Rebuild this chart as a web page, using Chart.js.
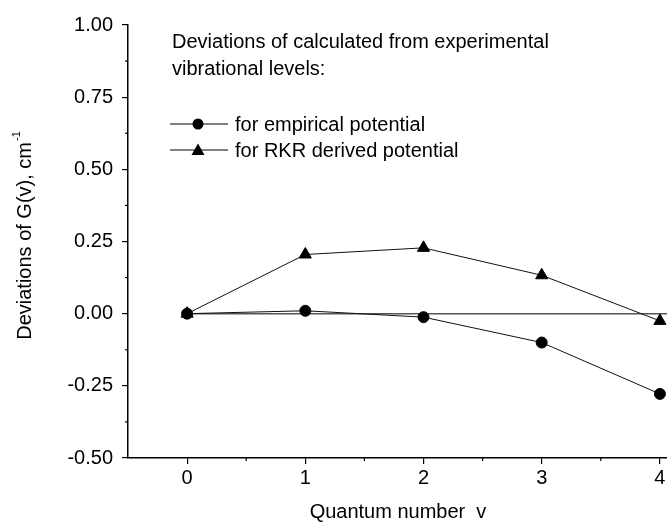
<!DOCTYPE html>
<html>
<head>
<meta charset="utf-8">
<script src="https://cdn.jsdelivr.net/npm/chart.js@4"></script>
<style>
  html, body { margin: 0; padding: 0; background: #fff; }
  #wrap { width: 667px; height: 527px; }
</style>
</head>
<body>
<div id="wrap"><canvas id="myChart" width="667" height="527"></canvas></div>
<script>
// quantum number v
const quantum = [0, 1, 2, 3, 4];
// deviations of G(v), cm-1
const empirical = [0, 0.01, -0.012, -0.10, -0.278];
const rkr = [0, 0.205, 0.228, 0.133, -0.025];
// zero reference line
const zeroX = [0, 4.06];
const zeroY = [0, 0];

const xTicks = [0, 1, 2, 3, 4];
const yTicks = [-0.5, -0.25, 0, 0.25, 0.5, 0.75, 1.0];

const FONT = '"Liberation Sans", Arial, sans-serif';

function pairs(xs, ys){
    return xs.map((x, i) => ({x: x, y: ys[i]}));
}

// x labels, minor ticks, titles and the in-plot legend
const extras = {
    id: 'extras',
    afterDraw(chart){
        const ctx = chart.ctx;
        const xs = chart.scales.x, ys = chart.scales.y;
        const area = chart.chartArea;
        ctx.save();
        ctx.strokeStyle = '#000';
        ctx.lineWidth = 1.2;
        // minor ticks
        for (let v = -0.5; v <= 4; v += 1){
            const px = xs.getPixelForValue(v);
            if (px < area.left + 1) continue;
            ctx.beginPath();
            ctx.moveTo(px, area.bottom);
            ctx.lineTo(px, area.bottom + 3);
            ctx.stroke();
        }
        for (let v = -0.375; v < 1; v += 0.25){
            const py = ys.getPixelForValue(v);
            ctx.beginPath();
            ctx.moveTo(area.left, py);
            ctx.lineTo(area.left - 3, py);
            ctx.stroke();
        }

        ctx.fillStyle = '#000';
        ctx.font = '20px ' + FONT;
        ctx.textBaseline = 'middle';

        // x tick labels
        ctx.textAlign = 'center';
        xTicks.forEach(v => {
            ctx.fillText(String(v), xs.getPixelForValue(v), area.bottom + 20);
        });

        ctx.textAlign = 'left';
        // header text
        ctx.fillText('Deviations of calculated from experimental', 172, 42);
        ctx.fillText('vibrational levels:', 172, 69);

        // legend
        const rows = [
            {y: 124, label: 'for empirical potential', shape: 'circle'},
            {y: 150, label: 'for RKR derived potential', shape: 'triangle'}
        ];
        rows.forEach(r => {
            ctx.lineWidth = 1;
            ctx.beginPath();
            ctx.moveTo(170, r.y);
            ctx.lineTo(228, r.y);
            ctx.stroke();
            ctx.beginPath();
            if (r.shape === 'circle'){
                ctx.arc(198, r.y, 5.5, 0, Math.PI * 2);
            } else {
                ctx.moveTo(198, r.y - 6.5);
                ctx.lineTo(204.5, r.y + 5);
                ctx.lineTo(191.5, r.y + 5);
                ctx.closePath();
            }
            ctx.fill();
            ctx.fillText(r.label, 235, r.y + 1);
        });

        // x title
        ctx.textAlign = 'center';
        ctx.fillText('Quantum number  v', 398, 512);

        // y title with superscript
        const main = 'Deviations of G(v), cm';
        const sup = '-1';
        ctx.font = '20px ' + FONT;
        const w1 = ctx.measureText(main).width;
        ctx.font = '11px ' + FONT;
        const w2 = ctx.measureText(sup).width;
        ctx.save();
        ctx.translate(25, 236);
        ctx.rotate(-Math.PI / 2);
        ctx.textAlign = 'left';
        ctx.textBaseline = 'middle';
        ctx.font = '20px ' + FONT;
        ctx.fillText(main, -(w1 + w2) / 2, 0);
        ctx.font = '11px ' + FONT;
        ctx.fillText(sup, -(w1 + w2) / 2 + w1 + 1, -8);
        ctx.restore();

        ctx.restore();
    }
};

var ctx = document.getElementById('myChart').getContext('2d');
var chart = new Chart(ctx, {
    type: 'scatter',
    data: {
        datasets: [{
            label: 'zero',
            data: pairs(zeroX, zeroY),
            showLine: true,
            borderColor: '#555',
            borderWidth: 1.5,
            pointRadius: 0,
            order: 3
        }, {
            label: 'for empirical potential',
            data: pairs(quantum, empirical),
            showLine: true,
            borderColor: '#111',
            borderWidth: 1,
            pointStyle: 'circle',
            pointRadius: 5.5,
            pointBackgroundColor: '#000',
            pointBorderColor: '#000',
            order: 1
        }, {
            label: 'for RKR derived potential',
            data: pairs(quantum, rkr),
            showLine: true,
            borderColor: '#111',
            borderWidth: 1,
            pointStyle: 'triangle',
            pointRadius: 7,
            pointBackgroundColor: '#000',
            pointBorderColor: '#000',
            order: 2
        }]
    },
    options: {
        responsive: false,
        animation: false,
        layout: { autoPadding: false, padding: { top: 25, left: 0, right: 0, bottom: 0 } },
        plugins: {
            legend: { display: false },
            tooltip: { enabled: false }
        },
        scales: {
            x: {
                type: 'linear',
                min: -0.5,
                max: 4.06,
                afterBuildTicks: s => { s.ticks = xTicks.map(v => ({value: v})); },
                afterFit: s => { s.height = 69; },
                grid: { drawOnChartArea: false, drawTicks: true, tickLength: 6, color: '#000', lineWidth: 1.2 },
                border: { display: true, color: '#000', width: 1.5 },
                ticks: { display: false }
            },
            y: {
                type: 'linear',
                min: -0.5,
                max: 1.0,
                afterBuildTicks: s => { s.ticks = yTicks.map(v => ({value: v})); },
                afterFit: s => { s.width = 128; },
                grid: { drawOnChartArea: false, drawTicks: true, tickLength: 6, color: '#000', lineWidth: 1.2 },
                border: { display: true, color: '#000', width: 1.5 },
                ticks: {
                    color: '#000', padding: 9,
                    font: { family: FONT, size: 20 },
                    callback: v => v.toFixed(2)
                }
            }
        }
    },
    plugins: [extras]
});
</script>
</body>
</html>
